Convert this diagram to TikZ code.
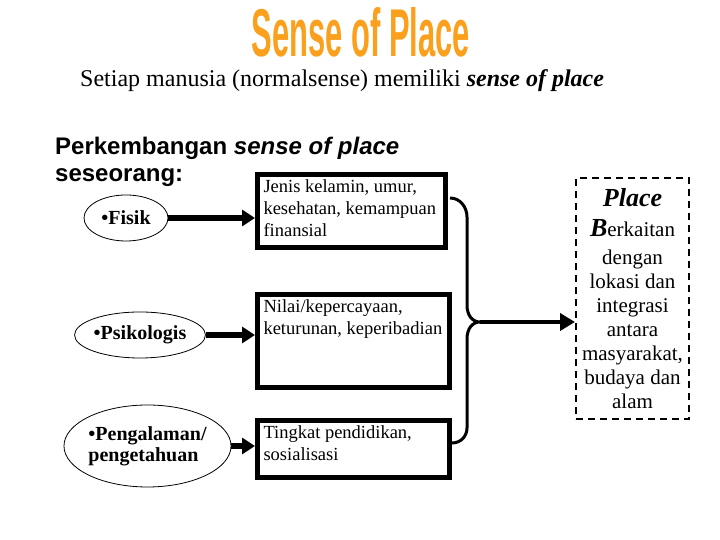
\documentclass[tikz,border=0pt]{standalone}
\usepackage{fontspec}
\setmainfont{Liberation Serif}
\setsansfont{Liberation Sans}
\usepackage{tikz}
\usetikzlibrary{positioning,arrows.meta,shapes.geometric}
\definecolor{titleorange}{HTML}{FBA01C}
\newcommand{\sensetitle}{\resizebox{218pt}{49pt}{\sffamily\bfseries Sense of Place}}
\newcommand{\boxtext}[3]{\parbox[c][#2][t]{#1}{\raggedright #3}}

\begin{document}
\begin{tikzpicture}[x=1pt,y=1pt,
  ellip/.style={ellipse,draw,line width=0.8pt,inner sep=0pt,align=left,font=\fontsize{20}{21}\selectfont\bfseries},
  infobox/.style={draw,line width=5pt,anchor=north west,inner xsep=6pt,inner ysep=5pt,font=\fontsize{18.5}{22}\selectfont},
  placebox/.style={draw,dash pattern=on 7pt off 5pt,line width=2pt,minimum width=113pt,minimum height=241pt,inner sep=2pt,align=center,font=\fontsize{21}{24}\selectfont},
  arr/.style={-{Triangle[length=13pt,width=16pt]},line width=6pt},
  arrjoin/.style={-{Triangle[length=15pt,width=17pt]},line width=4.5pt},
  brace/.style={line width=3pt},
]
\useasboundingbox (0,0) rectangle (720,540);
% Title
\node[inner sep=0pt,anchor=base,text=titleorange] (title) at (361,483) {\sensetitle};
\node[anchor=base west,inner sep=0pt,font=\fontsize{24}{28}\selectfont] (intro) at (80,453) {Setiap manusia (normalsense) memiliki \textbf{\textit{sense of place}}};
\node[anchor=north west,inner sep=0pt,align=left,font=\sffamily\bfseries\fontsize{24}{27}\selectfont] (perk) at (55,403) {Perkembangan \textit{sense of place}\\seseorang:};

% Left column: aspects
\node[ellip,minimum width=84pt,minimum height=46pt] (fisik) at (126,322) {•Fisik};
\node[ellip,minimum width=114pt,minimum height=46pt] (psikologis) at (140,205) {•Psikologis};
\node[ellip,minimum width=141pt,minimum height=82pt] (pengalaman) at (147.5,94) {•Pengalaman/\\pengetahuan};

% Middle column: factors
\node[infobox] (fisikbox) at (255,368) {\boxtext{176pt}{63pt}{Jenis kelamin, umur,\\kesehatan, kemampuan\\finansial}};
\node[infobox] (psikobox) at (255,248) {\boxtext{180pt}{83pt}{Nilai/kepercayaan,\\\mbox{keturunan, keperibadian}}};
\node[infobox] (pengbox) at (255,122) {\boxtext{180pt}{47pt}{Tingkat pendidikan,\\sosialisasi}};

% Right: place
\node[placebox] (place) at (632.5,241.5) {{\fontsize{26}{30}\selectfont\bfseries\itshape Place}\\[6pt]
  {\fontsize{26}{24}\selectfont\bfseries\itshape B}erkaitan\\[4pt]dengan\\lokasi dan\\integrasi\\antara\\masyarakat,\\budaya dan\\alam};

% Arrows
\draw[arr] (fisik.east) -- (fisik.east -| fisikbox.west);
\draw[arr] (psikologis.east) -- (psikologis.east -| psikobox.west);
\draw[arr] (pengalaman.east) -- (pengalaman.east -| pengbox.west);

% Brace joining the three boxes
\coordinate (btop) at (450,342);
\coordinate (join) at (480,218);
\coordinate (bbot) at (452,97);
\draw[brace] (btop) .. controls (460,342) and (467,333) .. (467,323) -- (467,235)
  .. controls (467,225) and (472,218) .. (join)
  .. controls (472,218) and (467,211) .. (467,201) -- (467,112)
  .. controls (467,104) and (461,97) .. (bbot);
\draw[arrjoin] (join) -- (join -| place.west);
\end{tikzpicture}
\end{document}
